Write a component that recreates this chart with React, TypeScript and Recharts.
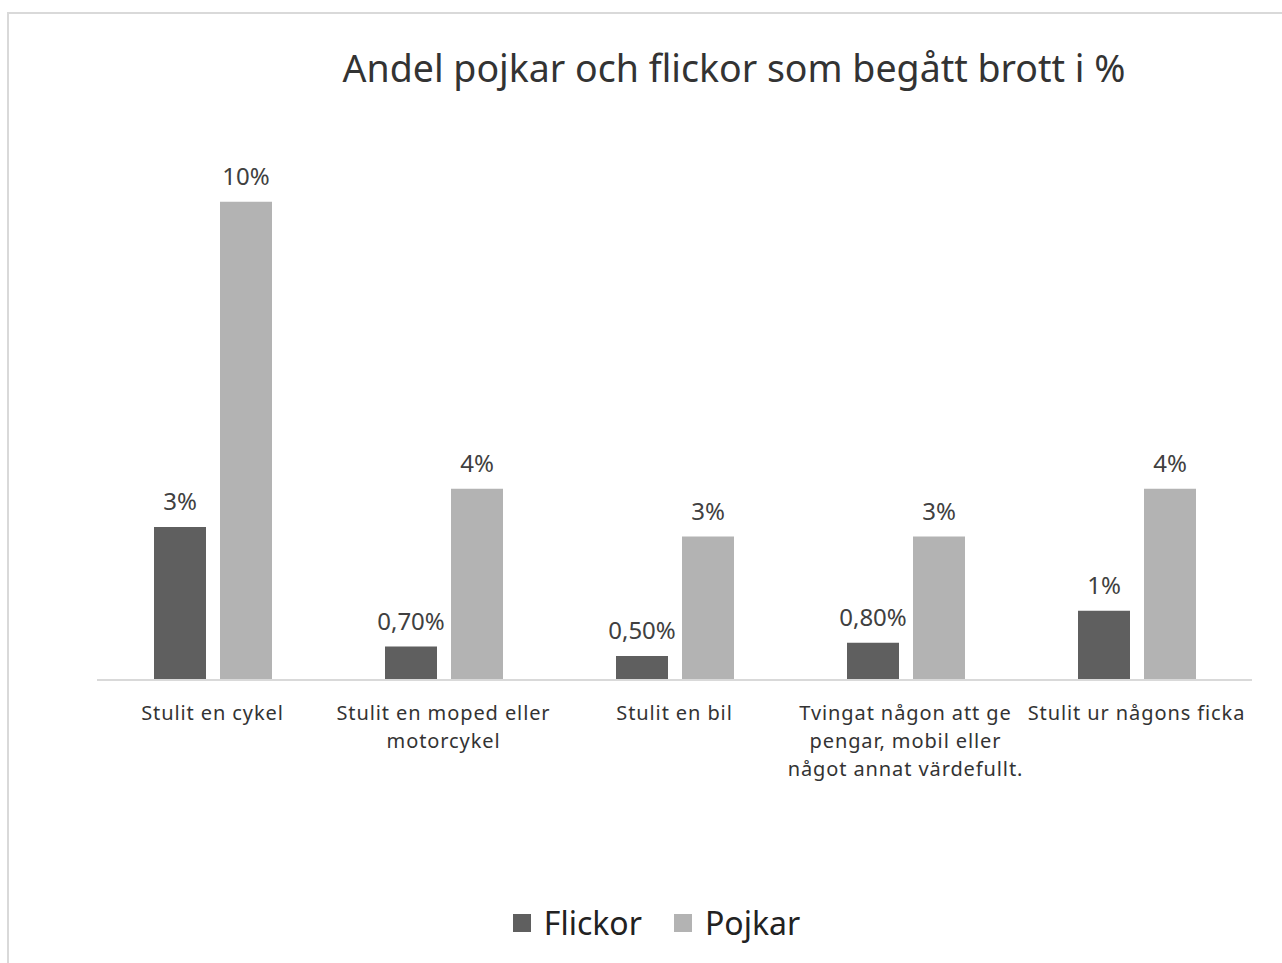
import React from 'react';
import { BarChart, Bar, XAxis, YAxis, Legend, LabelList } from 'recharts';

const categories = [
  'Stulit en cykel',
  'Stulit en moped eller\nmotorcykel',
  'Stulit en bil',
  'Tvingat någon att ge\npengar, mobil eller\nnågot annat värdefullt.',
  'Stulit ur någons ficka',
];
const flickor = [3.2, 0.7, 0.5, 0.78, 1.45];
const pojkar = [10, 4, 3, 3, 4];
const flickorLabels = ['3%', '0,70%', '0,50%', '0,80%', '1%'];
const pojkarLabels = ['10%', '4%', '3%', '3%', '4%'];

const FONT = '"Noto Sans", "Open Sans", sans-serif';
const DARK = '#5f5f5f';
const LIGHT = '#b3b3b3';

const data = categories.map((name, i) => ({
  name,
  flickor: flickor[i],
  pojkar: pojkar[i],
  fLabel: flickorLabels[i],
  pLabel: pojkarLabels[i],
}));

const CategoryTick = ({ x, y, payload }: any) => {
  const lines = String(payload.value).split('\n');
  return (
    <g>
      {lines.map((line: string, i: number) => (
        <text
          key={i}
          x={x}
          y={y + 32 + i * 28}
          textAnchor="middle"
          fontSize={20}
          letterSpacing={0.9}
          fontFamily={FONT}
          fill="#333"
        >
          {line}
        </text>
      ))}
    </g>
  );
};

const LegendContent = () => (
  <div
    style={{
      display: 'flex',
      justifyContent: 'center',
      alignItems: 'center',
      paddingRight: 36,
      marginTop: 18,
      fontFamily: FONT,
      fontSize: 32,
      color: '#222',
    }}
  >
    {[
      { label: 'Flickor', color: DARK },
      { label: 'Pojkar', color: LIGHT },
    ].map((it, i) => (
      <div key={i} style={{ display: 'flex', alignItems: 'center', marginRight: i === 0 ? 32 : 0 }}>
        <span style={{ width: 18, height: 18, background: it.color, display: 'inline-block', marginRight: 13 }} />
        <span>{it.label}</span>
      </div>
    ))}
  </div>
);

export default function App() {
  return (
    <div style={{ position: 'absolute', left: 0, top: 0, width: 1282, height: 963, background: '#fff', overflow: 'hidden' }}>
      <div
        style={{
          position: 'absolute',
          left: 7,
          top: 12,
          width: 1300,
          height: 1000,
          border: '2px solid #d9d9d9',
        }}
      />
      <div
        style={{
          position: 'absolute',
          left: 0,
          width: 1468,
          top: 42,
          textAlign: 'center',
          fontFamily: FONT,
          fontSize: 37.5,
          color: '#333',
          whiteSpace: 'nowrap',
        }}
      >
        Andel pojkar och flickor som begått brott i %
      </div>
      <div style={{ position: 'absolute', left: 0, top: 0 }}>
        <BarChart
          width={1282}
          height={963}
          data={data}
          margin={{ top: 106, right: 30, bottom: 0, left: 97 }}
          barSize={52}
          barGap={14}
        >
          <XAxis
            dataKey="name"
            interval={0}
            height={203}
            tickLine={false}
            axisLine={{ stroke: '#d9d9d9', strokeWidth: 2 }}
            tick={<CategoryTick />}
          />
          <YAxis hide domain={[0, 12]} allowDataOverflow />
          <Legend verticalAlign="bottom" height={80} content={<LegendContent />} />
          <Bar dataKey="flickor" fill={DARK} isAnimationActive={false}>
            <LabelList dataKey="fLabel" position="top" offset={17} fontSize={24} fontFamily={FONT} fill="#404040" />
          </Bar>
          <Bar dataKey="pojkar" fill={LIGHT} isAnimationActive={false}>
            <LabelList dataKey="pLabel" position="top" offset={17} fontSize={24} fontFamily={FONT} fill="#404040" />
          </Bar>
        </BarChart>
      </div>
    </div>
  );
}
